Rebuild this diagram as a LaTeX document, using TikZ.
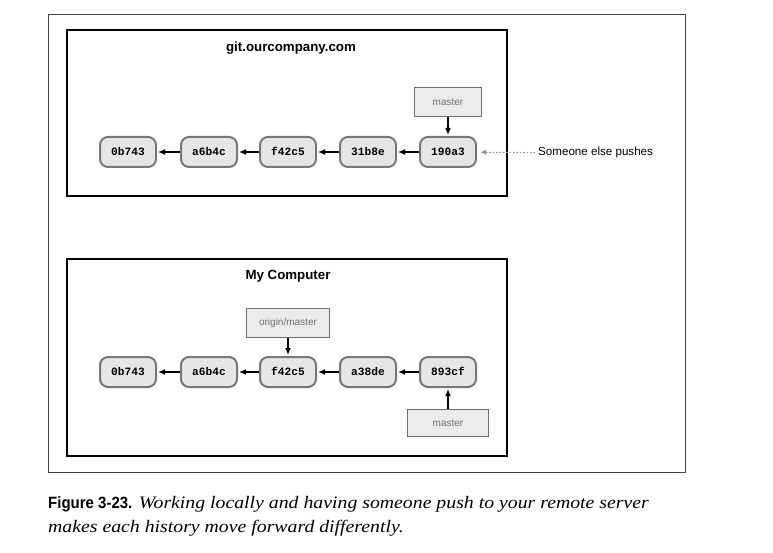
\documentclass[tikz,border=0pt]{standalone}
\usepackage{fontspec}
\setmainfont{Liberation Sans}
\setmonofont{Liberation Mono}
\newfontfamily\capserif{Liberation Serif}[FakeStretch=1.13]
\newfontfamily\capsans{Liberation Sans}[FakeStretch=0.92]
\usepackage{xcolor}
\usepackage{tikz}
\usetikzlibrary{arrows.meta}

\definecolor{commitfill}{HTML}{E6E6E6}
\definecolor{commitline}{HTML}{777777}
\definecolor{reffill}{HTML}{EBEBEB}
\definecolor{refline}{HTML}{6E6E6E}
\definecolor{reftext}{HTML}{707070}

\begin{document}
\begin{tikzpicture}[x=1pt,y=-1pt,
  commit/.style={draw=commitline,fill=commitfill,line width=2pt,rounded corners=8pt,
    minimum width=56pt,minimum height=30pt,inner sep=0pt,text height=6.8pt,text depth=0pt,
    font=\fontsize{11.2}{13}\selectfont\ttfamily\bfseries},
  branch/.style={draw=refline,fill=reffill,line width=1.3pt,minimum height=29pt,inner sep=0pt,
    text=reftext,font=\fontsize{10}{12}\selectfont},
  host/.style={draw=black,line width=2pt},
  parent/.style={-{Latex[length=7pt,width=6pt]},line width=1.3pt,shorten >=1pt},
  captionline/.style={anchor=base west,inner sep=0pt,font=\fontsize{17.5}{24}\selectfont\capserif\itshape}]

\useasboundingbox (0,0) rectangle (773,553);
\draw[draw=black!75,line width=0.8pt] (48,14) rectangle (685,472);

% server
\draw[host] (67,30) rectangle (507,196);
\node[font=\fontsize{13.3}{15}\selectfont\bfseries] (remote) at (291,48) {git.ourcompany.com};

\node[commit] (r0b743) at (128,152) {0b743};
\node[commit] (ra6b4c) at (209,152) {a6b4c};
\node[commit] (rf42c5) at (288,152) {f42c5};
\node[commit] (r31b8e) at (368,152) {31b8e};
\node[commit] (r190a3) at (448,152) {190a3};
\node[branch,minimum width=67pt] (rmaster) at (448,102) {master};

\draw[parent] (ra6b4c) -- (r0b743);
\draw[parent] (rf42c5) -- (ra6b4c);
\draw[parent] (r31b8e) -- (rf42c5);
\draw[parent] (r190a3) -- (r31b8e);
\draw[parent] (rmaster) -- (r190a3);

\node[font=\fontsize{11.6}{14}\selectfont,anchor=west,inner sep=0pt] (pushes) at (538,153) {Someone else pushes};
\draw[-{Latex[length=6pt,width=5pt]},draw=black!42,line width=1pt,dash pattern=on 1.6pt off 1.8pt,shorten >=3pt,shorten <=3pt] (pushes) -- (r190a3);

% local
\draw[host] (67,259) rectangle (507,456);
\node[font=\fontsize{13.3}{15}\selectfont\bfseries] (local) at (288,276) {My Computer};

\node[commit] (l0b743) at (128,372) {0b743};
\node[commit] (la6b4c) at (209,372) {a6b4c};
\node[commit] (lf42c5) at (288,372) {f42c5};
\node[commit] (la38de) at (368,372) {a38de};
\node[commit] (l893cf) at (448,372) {893cf};
\node[branch,minimum width=83pt] (lorigin) at (288,323) {origin/master};
\node[branch,minimum width=81pt,minimum height=27pt] (lmaster) at (448,423) {master};

\draw[parent] (la6b4c) -- (l0b743);
\draw[parent] (lf42c5) -- (la6b4c);
\draw[parent] (la38de) -- (lf42c5);
\draw[parent] (l893cf) -- (la38de);
\draw[parent] (lorigin) -- (lf42c5);
\draw[parent] (lmaster) -- (l893cf);

% caption
\node[captionline] (caption) at (48,508)
  {{\capsans\upshape\fontsize{16.3}{24}\selectfont\bfseries Figure 3-23.} Working locally and having someone push to your remote server};
\node[captionline] (caption2) at (48,532) {makes each history move forward differently.};
\end{tikzpicture}
\end{document}
